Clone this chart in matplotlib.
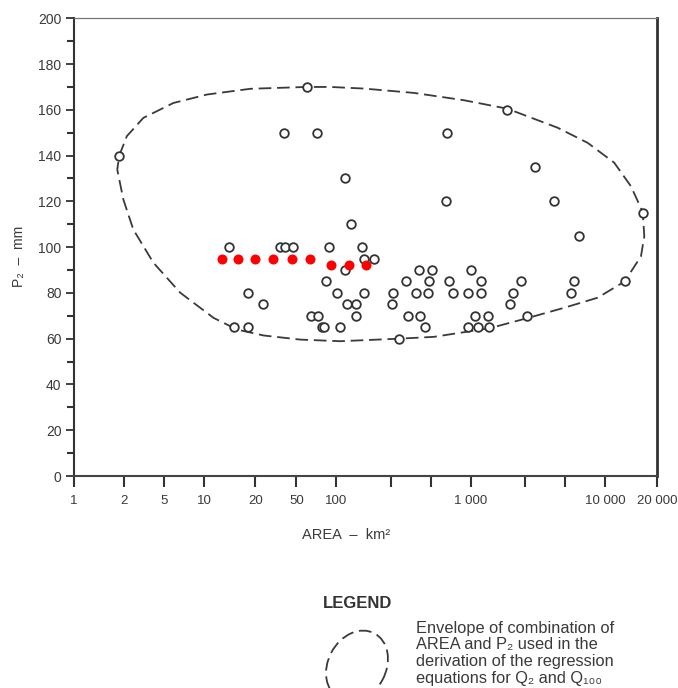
import numpy as np
import matplotlib
matplotlib.use("Agg")
import matplotlib.pyplot as plt
from matplotlib.patches import Ellipse
from matplotlib.ticker import FixedLocator, FixedFormatter, MultipleLocator, NullLocator

# ---------------- data ----------------
area_km2 = [1.87, 60, 38, 72, 1600, 660, 112, 2530, 648, 3900, 16500, 121, 6400,
            14, 35, 39, 46, 88, 138,
            142, 162,
            111, 382, 508, 1000,
            83, 287, 478, 686, 1137, 1900, 5870, 13000,
            18, 101, 143, 213, 360, 475, 741, 950, 1137, 1730, 5580,
            24, 115, 129, 208, 1656,
            64, 73, 128, 296, 390, 1060, 1250, 2094,
            15, 18, 78, 80, 104, 436, 950, 1098, 1260,
            242]
p2_mm = [140, 170, 150, 150, 160, 150, 130, 135, 120, 120, 115, 110, 105,
         100, 100, 100, 100, 100, 100,
         95, 95,
         90, 90, 90, 90,
         85, 85, 85, 85, 85, 85, 85, 85,
         80, 80, 80, 80, 80, 80, 80, 80, 80, 80, 80,
         75, 75, 75, 75, 75,
         70, 70, 70, 70, 70, 70, 70, 70,
         65, 65, 65, 65, 65, 65, 65, 65, 65,
         60]

red_area_km2 = [12.7, 15.8, 19.8, 29.7, 45, 63.7, 90.5, 117, 146]
red_p2_mm = [95, 95, 95, 95, 95, 95, 92, 92, 92]

env_area_km2 = [1.87, 2.13, 3.11, 5.87, 10.4, 18.7, 59.5, 90, 142, 341, 890, 1600,
                4230, 7410, 11320, 14140, 16530, 16890, 16160, 13000, 8810, 4920,
                2128, 1265, 1000, 529, 242, 105, 53.6, 24.1, 15.6, 11.35, 6.6,
                3.91, 2.47, 1.98, 1.82, 1.87]
env_p2_mm = [140, 148.5, 156.5, 163, 166.7, 169.2, 170, 170, 169.3, 167.4, 164.2, 160.5,
             152.2, 145.6, 136.9, 126.6, 115.4, 104.8, 96, 85, 77.9, 73.5,
             69, 64.5, 63.3, 60.8, 60, 58.9, 59.6, 61.4, 64, 69.1, 80.1,
             93.2, 107.7, 120.8, 133.9, 140]

x_tick_values = [1, 2, 5, 10, 20, 50, 100, 200, 500, 1000, 2000, 5000, 10000, 20000]
x_tick_labels = ['1', '2', '5', '10', '20', '50', '100', '', '', '1 000', '', '',
                 '10 000', '20 000']
y_tick_values = [0, 20, 40, 60, 80, 100, 120, 140, 160, 180, 200]

legend_lines = ["Envelope of combination of",
                "AREA and P\u2082 used in the",
                "derivation of the regression",
                "equations for Q\u2082 and Q\u2081\u2080\u2080"]

# ---------------- scale of the printed axis (uneven tick spacing) ----------------
_scale_logs = np.log10(np.array(x_tick_values, dtype=float))
_scale_rel = np.array([0, 50, 90, 130, 181, 222, 262, 316, 356, 396, 450, 490, 530, 582],
                      dtype=float)


def fwd(x):
    x = np.asarray(x, dtype=float)
    return np.interp(np.log10(np.clip(x, 1e-12, None)), _scale_logs, _scale_rel)


def inv(u):
    u = np.asarray(u, dtype=float)
    return 10 ** np.interp(u, _scale_rel, _scale_logs)


FONT = ['Liberation Sans', 'DejaVu Sans']
TXT = '#3a3a3a'
plt.rcParams['font.family'] = FONT

W, H = 678, 688
fig = plt.figure(figsize=(W / 100, H / 100), dpi=100)
fig.patch.set_facecolor('white')

ax = fig.add_axes([74 / W, 1 - 476 / H, (657 - 74) / W, (476 - 18.3) / H])
ax.set_xscale('function', functions=(fwd, inv))
ax.set_xlim(1, 20000)
ax.set_ylim(0, 200)

# envelope
ax.plot(env_area_km2, env_p2_mm, ls=(0, (7, 3.2)), lw=1.3, color='#3a3a3a', zorder=2)
# observations
ax.plot(area_km2, p2_mm, ls='none', marker='o', ms=6.2, mfc='white', mec='#333333',
        mew=1.3, zorder=3)
ax.plot(red_area_km2, red_p2_mm, ls='none', marker='o', ms=7.2, mfc='#ff0000',
        mec='#ff0000', mew=0, zorder=4)

ax.xaxis.set_major_locator(FixedLocator(x_tick_values))
ax.xaxis.set_major_formatter(FixedFormatter(x_tick_labels))
ax.xaxis.set_minor_locator(NullLocator())
ax.yaxis.set_major_locator(FixedLocator(y_tick_values))
ax.yaxis.set_minor_locator(MultipleLocator(10))

ax.tick_params(axis='x', which='major', direction='out', length=8, width=1.5,
               color='#333333', pad=6, labelsize=9.5, labelcolor=TXT)
ax.tick_params(axis='y', which='major', direction='out', length=5.5, width=1.3,
               color='#333333', pad=3.5, labelsize=10, labelcolor=TXT)
ax.tick_params(axis='y', which='minor', direction='out', length=5, width=1.5,
               color='#333333')

ax.spines['left'].set_linewidth(1.5)
ax.spines['left'].set_color('#333333')
ax.spines['bottom'].set_linewidth(1.5)
ax.spines['bottom'].set_color('#444444')
ax.spines['right'].set_linewidth(2.0)
ax.spines['right'].set_color('#333333')
ax.spines['top'].set_linewidth(0.9)
ax.spines['top'].set_color('#777777')

fig.text(346 / W, 1 - 535 / H, 'AREA  \u2013  km\u00b2', ha='center', va='center',
         fontsize=10.5, color=TXT, family=FONT)
fig.text(19 / W, 1 - 256 / H, 'P\u2082  \u2013  mm', ha='center', va='center',
         rotation=90, fontsize=10, color=TXT, family=FONT)

# legend
fig.text(323 / W, 1 - 603 / H, 'LEGEND', ha='left', va='center', fontsize=12,
         fontweight='bold', color='#333333', family=FONT)
for i, line in enumerate(legend_lines):
    fig.text(416 / W, 1 - (628.3 + 16.7 * i) / H, line, ha='left', va='center',
             fontsize=11.8, color=TXT, family=FONT)

lax = fig.add_axes([317 / W, 1 - 706 / H, 80 / W, 80 / H])
lax.set_xlim(0, 80)
lax.set_ylim(0, 80)
lax.axis('off')
lax.add_patch(Ellipse((40, 40), width=74, height=58, angle=62, fill=False,
                      ls=(0, (7, 3.2)), lw=1.3, ec='#3a3a3a', clip_on=False))

fig.savefig('out.png', dpi=100, facecolor='white')
